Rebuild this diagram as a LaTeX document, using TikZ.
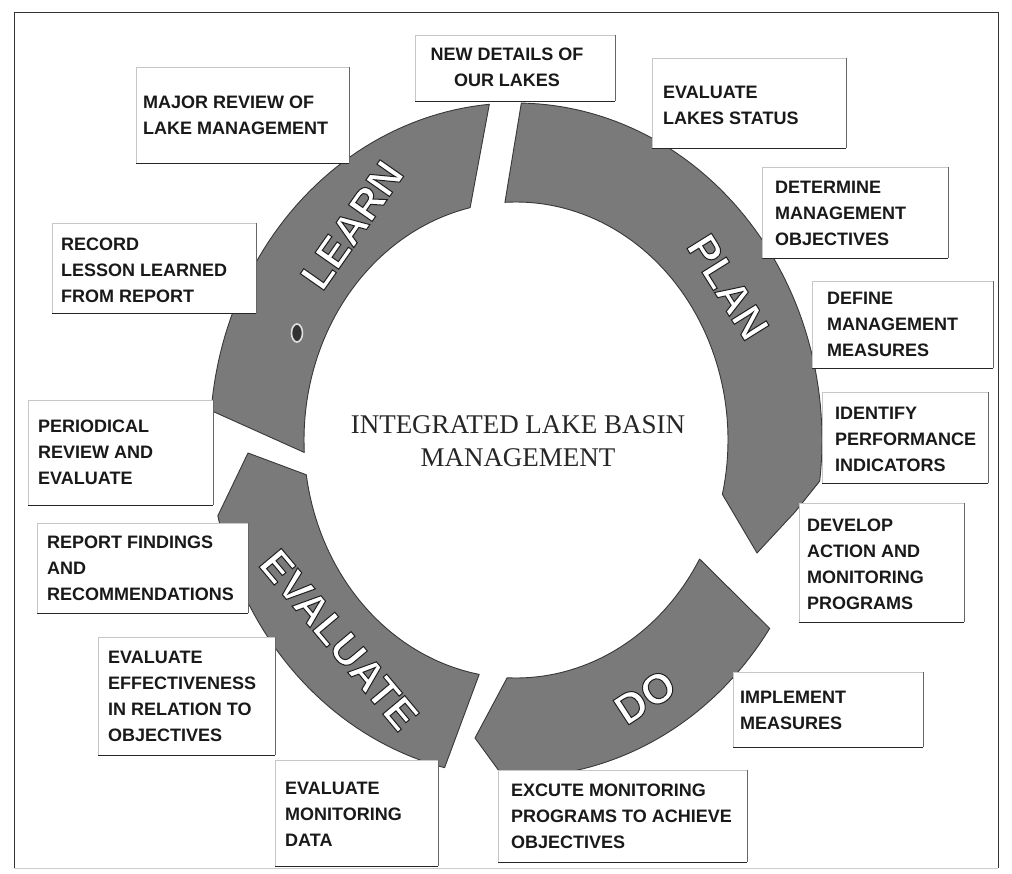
\documentclass[tikz,border=0pt]{standalone}
\usepackage{fontspec}
\setmainfont{Liberation Serif}
\newfontfamily\lblfont{Liberation Sans}
\newcommand\lakebox[5]{%
  \node[lbox, minimum width={#4-#2}, minimum height={#5-#3}] (#1) at (#2,#3) {};
  \draw[edgefaint] (#1.south west) -- (#1.north west) -- (#1.north east);
  \draw[edgeright] (#1.north east) -- (#1.south east);
  \draw[edgebottom] (#1.south west) -- (#1.south east);
}
\newcommand\outlinedword[1]{\special{pdf:literal direct q 2 Tr 1 w 0.12 G}#1\special{pdf:literal direct Q}}
\newcommand\ringword[4]{%
  \node[rlbl, text=white, rotate=#3] (#1) at (#2) {\outlinedword{#4}};
}
\begin{document}
\begin{tikzpicture}[x=1pt,y=-1pt,
  ringseg/.style={fill=black!52, draw=black!78, line width=0.9pt, line join=round},
  lbox/.style={fill=white, draw=none, inner sep=0pt, anchor=north west},
  btext/.style={font=\lblfont\bfseries\fontsize{18}{26}\selectfont, text=black!90, align=left, inner sep=0pt, anchor=west},
  edgefaint/.style={draw=black!22, line width=0.5pt},
  edgeright/.style={draw=black!60, line width=0.7pt},
  edgebottom/.style={draw=black!85, line width=1.4pt},
  ctext/.style={font=\fontsize{27}{33}\selectfont, text=black!85, align=center, inner sep=0pt},
  rlbl/.style={font=\lblfont\bfseries\fontsize{42}{42}\selectfont, inner sep=0pt},
  framel/.style={draw=black!80, line width=1pt},
  frameb/.style={draw=black!20, line width=0.8pt},
  spot/.style={fill=black!80, draw=black!12, line width=1.6pt},
]
\useasboundingbox (0,0) rectangle (1012,874);
\fill[white] (0,0) rectangle (1012,874);

\def\cx{516}\def\cy{440}
\def\rox{306}\def\roy{337}
\def\rix{212}\def\riy{238}

% tips of the ring pieces
\coordinate (planbarb) at (795,512);
\coordinate (plantip) at (757,553);
\coordinate (dotip) at (475,738);
\coordinate (evaltip) at (248,453);

% PLAN
\path[ringseg] plot[domain=-89:7, samples=60] ({\cx+\rox*cos(\x)},{\cy+\roy*sin(\x)})
  -- (planbarb) -- (plantip)
  -- plot[domain=13.2:-93, samples=60] ({\cx+\rix*cos(\x)},{\cy+\riy*sin(\x)}) -- cycle;
% DO
\path[ringseg] plot[domain=34:92.4, samples=40] ({\cx+\rox*cos(\x)},{\cy+\roy*sin(\x)})
  -- (dotip)
  -- plot[domain=92.4:30, samples=40] ({\cx+\rix*cos(\x)},{\cy+\riy*sin(\x)}) -- cycle;
% EVALUATE
\path[ringseg] plot[domain=103.5:167, samples=40] ({\cx+\rox*cos(\x)},{\cy+\roy*sin(\x)})
  -- (evaltip)
  -- plot[domain=171.6:100, samples=40] ({\cx+\rix*cos(\x)},{\cy+\riy*sin(\x)}) -- cycle;
% LEARN
\path[ringseg] plot[domain=185:265, samples=50] ({\cx+\rox*cos(\x)},{\cy+\roy*sin(\x)})
  -- plot[domain=257.5:177, samples=50] ({\cx+\rix*cos(\x)},{\cy+\riy*sin(\x)}) -- cycle;

\filldraw[spot] (297,333) ellipse [x radius=5.5, y radius=9];

% ring words
\ringword{learn}{352,225}{55}{LEARN}
\ringword{plan}{728,287}{-58}{PLAN}
\ringword{evaluate}{339,640}{-50}{EVALUATE}
\ringword{do}{645,697}{33}{DO}

% boxes
\lakebox{b1}{415}{35}{615}{101}
\lakebox{b2}{136}{67}{349}{163}
\lakebox{b3}{652}{58}{846}{148}
\lakebox{b4}{762}{167}{948}{258}
\lakebox{b5}{812}{281}{993}{368}
\lakebox{b6}{822}{392}{988}{483}
\lakebox{b7}{799}{503}{964}{622}
\lakebox{b8}{733}{672}{923}{747}
\lakebox{b9}{498}{770}{747}{862}
\lakebox{b10}{275}{760}{438}{866}
\lakebox{b11}{98}{637}{275}{755}
\lakebox{b12}{37}{523}{248}{613}
\lakebox{b13}{28}{400}{213}{505}
\lakebox{b14}{52}{223}{256}{313}

\node[btext, anchor=center, align=center] (t1) at (507,67) {NEW DETAILS OF\\OUR LAKES};
\node[btext] (t2) at (143,115) {MAJOR REVIEW OF\\LAKE MANAGEMENT};
\node[btext] (t3) at (663,105) {EVALUATE\\LAKES STATUS};
\node[btext] (t4) at (775,213) {DETERMINE\\MANAGEMENT\\OBJECTIVES};
\node[btext] (t5) at (827,324) {DEFINE\\MANAGEMENT\\MEASURES};
\node[btext] (t6) at (835,439) {IDENTIFY\\PERFORMANCE\\INDICATORS};
\node[btext] (t7) at (807,564) {DEVELOP\\ACTION AND\\MONITORING\\PROGRAMS};
\node[btext] (t8) at (740,710) {IMPLEMENT\\MEASURES};
\node[btext] (t9) at (511,816) {EXCUTE MONITORING\\PROGRAMS TO ACHIEVE\\OBJECTIVES};
\node[btext] (t10) at (285,814) {EVALUATE\\MONITORING\\DATA};
\node[btext] (t11) at (108,696) {EVALUATE\\EFFECTIVENESS\\IN RELATION TO\\OBJECTIVES};
\node[btext] (t12) at (47,568) {REPORT FINDINGS\\AND\\RECOMMENDATIONS};
\node[btext] (t13) at (38,452) {PERIODICAL\\REVIEW AND\\EVALUATE};
\node[btext] (t14) at (61,270) {RECORD\\LESSON LEARNED\\FROM REPORT};

\node[ctext] (title) at (518,441) {INTEGRATED LAKE BASIN\\MANAGEMENT};

% frame
\draw[framel] (14,868) -- (14,13) -- (998,13) -- (998,868);
\draw[frameb] (14,868) -- (998,868);
\end{tikzpicture}
\end{document}
